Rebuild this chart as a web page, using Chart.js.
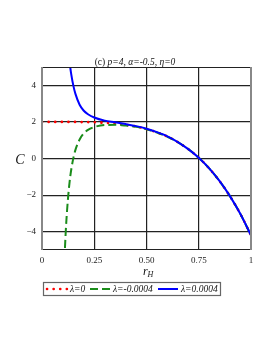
<!DOCTYPE html>
<html><head><meta charset="utf-8">
<script src="https://cdn.jsdelivr.net/npm/chart.js@4/dist/chart.umd.min.js"></script>
<style>html,body{margin:0;padding:0;background:#fff}#c{display:block}</style>
</head><body>
<canvas id="c" width="273" height="353"></canvas>
<script>
const rValues    = [0, 0.105, 0.11, 0.115, 0.12, 0.125, 0.13, 0.135, 0.14, 0.15, 0.16, 0.18, 0.2, 0.22, 0.25, 0.3, 0.35, 0.4, 0.45, 0.5, 0.55, 0.6, 0.65, 0.7, 0.75, 0.8, 0.85, 0.9, 0.95, 1.0];
const cLambda0   = [2, 2, 2, 2, 2, 2, 2, 2, 2, 2, 2, 1.99, 1.99, 1.99, 1.98, 1.95, 1.91, 1.84, 1.75, 1.61, 1.43, 1.2, 0.89, 0.51, 0.04, -0.54, -1.24, -2.07, -3.05, -4.2];
const cLambdaNeg = [null, -6.2, -4.85, -3.7, -2.83, -2.1, -1.5, -1.0, -0.6, 0.02, 0.47, 1.04, 1.37, 1.56, 1.72, 1.83, 1.84, 1.8, 1.73, 1.6, 1.42, 1.19, 0.89, 0.51, 0.04, -0.54, -1.24, -2.07, -3.05, -4.2];
const cLambdaPos = [null, null, null, null, null, null, 5.5, 5.0, 4.6, 3.98, 3.53, 2.94, 2.61, 2.42, 2.24, 2.07, 1.98, 1.88, 1.77, 1.63, 1.44, 1.21, 0.9, 0.51, 0.04, -0.54, -1.24, -2.07, -3.05, -4.2];
const seriesLabels = ['λ=0', 'λ=-0.0004', 'λ=0.0004'];
const xTicks = [0, 0.25, 0.5, 0.75, 1];
const xTickLabels = ['0', '0.25', '0.50', '0.75', '1'];
const yTicks = [-4, -2, 0, 2, 4];
const titleUpright = '(c) ';
const titleItalic = 'p=4, α=-0.5, η=0';

const toPts = arr => rValues.map((r, i) => ({x: r, y: arr[i]}));
const SERIF = '"Liberation Serif", "DejaVu Serif", serif';

const decor = {
  id: 'decor',
  afterDatasetsDraw(chart) {
    const ctx = chart.ctx, a = chart.chartArea;
    ctx.save();
    ctx.strokeStyle = '#222'; ctx.lineWidth = 1;
    ctx.beginPath();
    ctx.moveTo(a.left, a.top + 0.5); ctx.lineTo(a.right, a.top + 0.5);
    ctx.moveTo(a.left, a.bottom - 0.5); ctx.lineTo(a.right, a.bottom - 0.5);
    ctx.stroke();
    ctx.strokeStyle = '#888'; ctx.lineWidth = 2;
    ctx.beginPath();
    ctx.moveTo(a.left, a.top); ctx.lineTo(a.left, a.bottom);
    ctx.moveTo(a.right, a.top); ctx.lineTo(a.right, a.bottom);
    ctx.stroke();
    ctx.fillStyle = '#111';
    ctx.textBaseline = 'alphabetic';
    ctx.font = '9.5px ' + SERIF;
    const w1 = ctx.measureText(titleUpright).width;
    ctx.font = 'italic 9.5px ' + SERIF;
    const w2 = ctx.measureText(titleItalic).width;
    const tx = 135 - (w1 + w2) / 2;
    ctx.font = '9.5px ' + SERIF;
    ctx.textAlign = 'left';
    ctx.fillText(titleUpright, tx, 65);
    ctx.font = 'italic 9.5px ' + SERIF;
    ctx.fillText(titleItalic, tx + w1, 65);
    ctx.font = 'italic 14px ' + SERIF;
    ctx.textAlign = 'center'; ctx.textBaseline = 'middle';
    ctx.fillText('C', 20, 160);
    ctx.font = 'italic 12px ' + SERIF;
    ctx.textAlign = 'left'; ctx.textBaseline = 'alphabetic';
    ctx.fillText('r', 143, 275);
    ctx.font = 'italic 8px ' + SERIF;
    ctx.fillText('H', 147.5, 277);
    const lx = 43, ly = 282, lw = 177, lh = 13;
    ctx.strokeStyle = '#666'; ctx.lineWidth = 1.2;
    ctx.strokeRect(lx + 0.5, ly + 0.5, lw, lh);
    const cy = ly + lh / 2 + 0.5;
    const items = [
      {x: 46, color: '#ff0000', dash: [0.1, 6.5], cap: 'round', w: 2.6, tx: 70},
      {x: 89, color: '#1a8c1a', dash: [8, 4], cap: 'butt', w: 2, tx: 113},
      {x: 157, color: '#0000ff', dash: [], cap: 'butt', w: 2, tx: 181}
    ];
    items.forEach((it, i) => {
      ctx.strokeStyle = it.color; ctx.lineWidth = it.w; ctx.lineCap = it.cap;
      ctx.setLineDash(it.dash);
      ctx.beginPath(); ctx.moveTo(it.x + 1, cy); ctx.lineTo(it.x + 21, cy); ctx.stroke();
      ctx.setLineDash([]); ctx.lineCap = 'butt';
      ctx.fillStyle = '#111';
      ctx.font = 'italic 9.5px ' + SERIF;
      ctx.textAlign = 'left'; ctx.textBaseline = 'middle';
      ctx.fillText(seriesLabels[i], it.tx, cy + 0.5);
    });
    ctx.restore();
  }
};

new Chart(document.getElementById('c'), {
  type: 'line',
  data: {
    datasets: [
      {label: seriesLabels[0], order: 3, data: toPts(cLambda0), borderColor: '#ff0000', borderWidth: 2.6, borderDash: [0.1, 6.5], borderCapStyle: 'round', pointRadius: 0, cubicInterpolationMode: 'monotone', fill: false},
      {label: seriesLabels[1], order: 2, data: toPts(cLambdaNeg), borderColor: '#1a8c1a', borderWidth: 2, borderDash: [8, 4], pointRadius: 0, cubicInterpolationMode: 'monotone', fill: false},
      {label: seriesLabels[2], order: 1, data: toPts(cLambdaPos), borderColor: '#0000ff', borderWidth: 2, pointRadius: 0, cubicInterpolationMode: 'monotone', fill: false}
    ]
  },
  options: {
    responsive: false, animation: false, devicePixelRatio: 1,
    layout: {padding: {left: 0, right: 22, top: 67, bottom: 0}},
    plugins: {legend: {display: false}, title: {display: false}, tooltip: {enabled: false}},
    scales: {
      x: {
        type: 'linear', min: 0, max: 1,
        afterFit(s) { s.height = 103; },
        afterBuildTicks(s) { s.ticks = xTicks.map(v => ({value: v})); },
        ticks: {
          padding: 5, color: '#222', maxRotation: 0, autoSkip: false,
          font: {family: SERIF, size: 9},
          callback: (v) => { const i = xTicks.indexOf(v); return i >= 0 ? xTickLabels[i] : ''; }
        },
        grid: {color: '#222', lineWidth: 1.2, drawTicks: false},
        border: {display: false}
      },
      y: {
        type: 'linear', min: -5, max: 5,
        afterFit(s) { s.width = 42; },
        afterBuildTicks(s) { s.ticks = yTicks.map(v => ({value: v})); },
        ticks: {
          padding: 6, color: '#222', autoSkip: false,
          font: {family: SERIF, size: 9},
          callback: (v) => v < 0 ? '−' + Math.abs(v) : String(v)
        },
        grid: {color: '#222', lineWidth: 1.2, drawTicks: false},
        border: {display: false}
      }
    }
  },
  plugins: [decor]
});
</script>
</body></html>
